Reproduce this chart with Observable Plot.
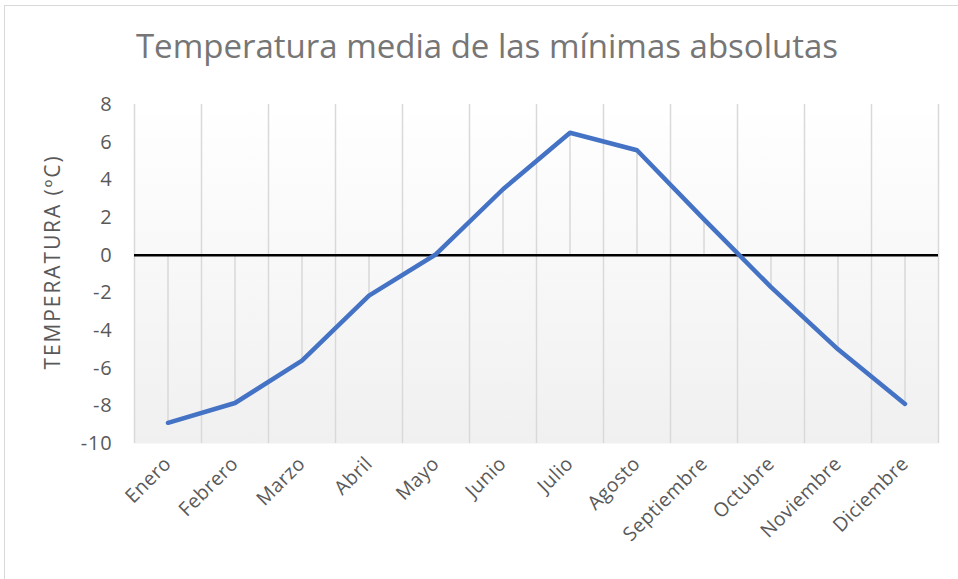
<!DOCTYPE html>
<html><head><meta charset="utf-8">
<script src="https://cdn.jsdelivr.net/npm/d3@7"></script>
<script src="https://cdn.jsdelivr.net/npm/@observablehq/plot@0.6"></script>
<style>
body{margin:0;background:#fff;overflow:hidden;}
#frame{position:absolute;left:4px;top:5px;width:1000px;height:600px;border:1.5px solid #d9d9d9;box-sizing:border-box;}
#chart{position:absolute;left:0;top:0;}
#title{position:absolute;left:0;top:26px;width:974px;text-align:center;font-family:"Open Sans",sans-serif;font-size:33px;line-height:40px;color:#767676;}
#chart svg [aria-label="y-axis tick label"] text{font-size:20px;letter-spacing:0.8px;}
#chart svg [aria-label="x-axis tick label"] text{font-size:19.5px;letter-spacing:0.4px;}
#chart svg [aria-label="text"] text{font-size:21px;letter-spacing:1.9px;}
</style></head><body>
<div id="frame"></div>
<div id="title"></div>
<div id="chart"></div>
<script>
const months = ["Enero","Febrero","Marzo","Abril","Mayo","Junio","Julio","Agosto","Septiembre","Octubre","Noviembre","Diciembre"];
const temps = [-8.9, -7.85, -5.6, -2.15, 0.05, 3.5, 6.5, 5.57, 1.9, -1.7, -5.0, -7.9];
const yTicks = [-10, -8, -6, -4, -2, 0, 2, 4, 6, 8];
const titleText = "Temperatura media de las mínimas absolutas";
const yLabel = "TEMPERATURA (ºC)";

const data = months.map((m, i) => ({month: m, temp: temps[i]}));
document.getElementById("title").textContent = titleText;

const W = 958, H = 579, ML = 134, MR = 20, MT = 104, MB = 136;
const bw = (W - ML - MR) / months.length;

const chart = Plot.plot({
  width: W, height: H,
  marginLeft: ML, marginRight: MR, marginTop: MT, marginBottom: MB,
  style: {fontFamily: "Open Sans, sans-serif", background: "transparent", color: "#595959", fontSize: "20px"},
  x: {type: "band", domain: months, padding: 0, label: null},
  y: {domain: [-10, 8], ticks: yTicks, label: null},
  marks: [
    Plot.frame({fill: "url(#bgGrad)", stroke: "none"}),
    Plot.ruleX(months, {x: d => d, dx: -bw / 2, stroke: "#d9d9d9", strokeWidth: 1.5}),
    Plot.ruleX(months.slice(-1), {x: d => d, dx: bw / 2, stroke: "#d9d9d9", strokeWidth: 1.5}),
    Plot.ruleX(data, {x: "month", y1: 0, y2: "temp", stroke: "#d9d9d9", strokeWidth: 1.5}),
    Plot.ruleY([0], {stroke: "#000", strokeWidth: 2.5}),
    Plot.line(data, {x: "month", y: "temp", stroke: "#4472c4", strokeWidth: 4.5, strokeLinejoin: "round", strokeLinecap: "round"}),
    Plot.axisY({ticks: yTicks, tickSize: 0, tickPadding: 22, tickFormat: d => String(d), label: null}),
    Plot.axisX({tickSize: 0, tickPadding: 17, tickRotate: -45, label: null}),
    Plot.text([yLabel], {frameAnchor: "left", dx: -81, dy: -12, rotate: -90, textAnchor: "middle", fontSize: 21, fill: "#595959"})
  ]
});

const defs = d3.select(chart).insert("defs", ":first-child");
const g = defs.append("linearGradient").attr("id", "bgGrad").attr("x1", 0).attr("y1", 0).attr("x2", 0).attr("y2", 1);
g.append("stop").attr("offset", "0%").attr("stop-color", "#ffffff");
g.append("stop").attr("offset", "100%").attr("stop-color", "#f0f0f0");

document.getElementById("chart").appendChild(chart);
</script>
</body></html>
